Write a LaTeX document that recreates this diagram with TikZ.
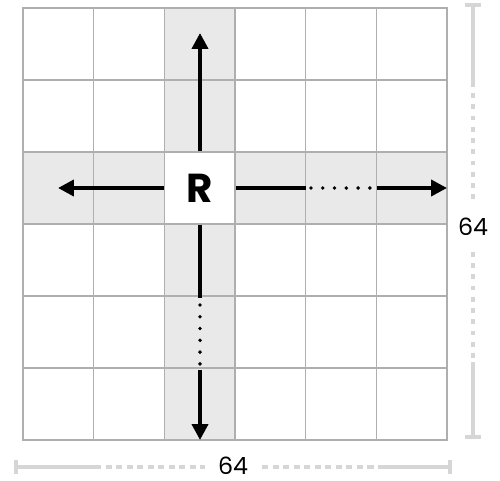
\documentclass[tikz,border=0pt]{standalone}
\usepackage{fontspec}
\setmainfont{Poppins}
\usetikzlibrary{positioning,calc,arrows.meta}
\definecolor{bandgray}{RGB}{233,233,233}
\definecolor{linegray}{RGB}{175,175,175}
\definecolor{dimgray}{RGB}{214,214,214}

\begin{document}
\begin{tikzpicture}[x=0.02cm, y=-0.02cm, >={Triangle[length=9pt, width=9pt]}]
  \useasboundingbox (0,0) rectangle (500,480);
  % highlighted row and column
  \fill[bandgray] (164.3,8) rectangle (235,440);
  \fill[bandgray] (23,152) rectangle (447,224);
  \foreach \i in {0,...,5} {
    \foreach \j in {0,...,5} {
      \node[draw=linegray, line width=0.7pt, minimum width=1.413cm, minimum height=1.44cm, inner sep=0pt] (c\i\j) at (58.3+70.67*\i, 44+72*\j) {};
    }
  }
  \node[draw=linegray, line width=0.7pt, fill=white, minimum width=1.413cm, minimum height=1.44cm, font=\fontsize{23}{23}\selectfont\bfseries] (rook) at (c22) {R};
  % moves of the rook
  \coordinate (up) at (200,33);
  \coordinate (lt) at (58,188);
  \coordinate (r1) at (306,188);
  \coordinate (r2) at (311,188);
  \coordinate (r3) at (370,188);
  \coordinate (r4) at (377,188);
  \coordinate (rt) at (447,188);
  \coordinate (d1) at (200,298);
  \coordinate (d2) at (200,305);
  \coordinate (d3) at (200,364);
  \coordinate (d4) at (200,370);
  \coordinate (dn) at (200,440);
  \draw[->, line width=2.2pt] (rook.north -| up) -- (up);
  \draw[->, line width=2.2pt] (rook.west) -- (lt);
  \draw[line width=2.2pt] (rook.east) -- (r1);
  \draw[line width=2.2pt, line cap=round, dash pattern=on 0pt off 6.7pt] (r2) -- (r3);
  \draw[->, line width=2.2pt] (r4) -- (rt);
  \draw[line width=2.2pt] (rook.south -| d1) -- (d1);
  \draw[line width=2.2pt, line cap=round, dash pattern=on 0pt off 6.7pt] (d2) -- (d3);
  \draw[->, line width=2.2pt] (d4) -- (dn);
  % size marks
  \node[font=\fontsize{13.5}{13.5}\selectfont, inner sep=1pt] (wd) at (233,466) {64};
  \coordinate (b0) at (16,467);
  \coordinate (b1) at (95,467);
  \coordinate (b2) at (205,467);
  \coordinate (b3) at (262,467);
  \coordinate (b4) at (378,467);
  \coordinate (b5) at (450,467);
  \draw[dimgray, line width=2pt] (b0) -- (b1) (b4) -- (b5);
  \draw[dimgray, line width=2pt, dash pattern=on 3.5pt off 2.5pt] (b1) -- (b2) (b3) -- (b4);
  \draw[dimgray, line width=2pt] ($(b0)+(0,-7)$) -- ($(b0)+(0,7)$) ($(b5)+(0,-7)$) -- ($(b5)+(0,7)$);
  \node[font=\fontsize{13.5}{13.5}\selectfont, inner sep=1pt] (ht) at (473,227) {64};
  \coordinate (h0) at (473,5);
  \coordinate (h1) at (473,82);
  \coordinate (h2) at (473,200);
  \coordinate (h3) at (473,252);
  \coordinate (h4) at (473,362);
  \coordinate (h5) at (473,437);
  \draw[dimgray, line width=2pt] (h0) -- (h1) (h4) -- (h5);
  \draw[dimgray, line width=2pt, dash pattern=on 2.6pt off 3.8pt] (h1) -- (h2) (h3) -- (h4);
  \draw[dimgray, line width=2pt] ($(h0)+(-8,0)$) -- ($(h0)+(8,0)$) ($(h5)+(-8,0)$) -- ($(h5)+(8,0)$);
\end{tikzpicture}
\end{document}
